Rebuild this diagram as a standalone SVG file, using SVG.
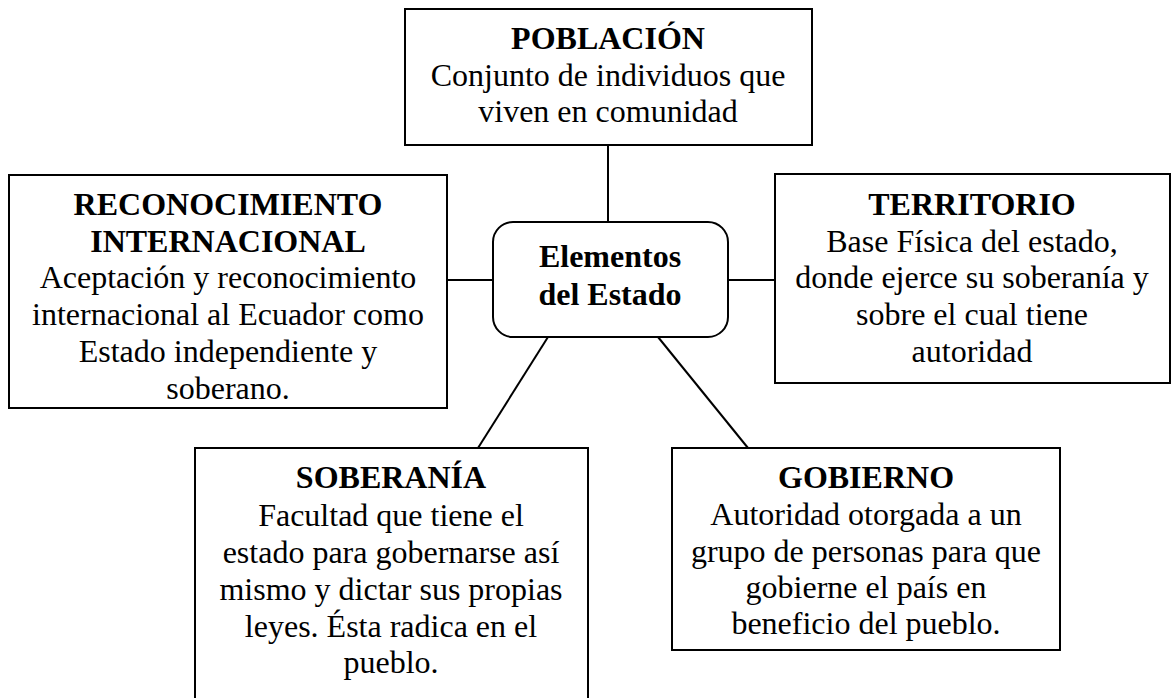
<svg xmlns="http://www.w3.org/2000/svg" width="1172" height="698" viewBox="0 0 1172 698">
<style>
.box{fill:#fff;stroke:#000;stroke-width:2}
.ln{stroke:#000;stroke-width:2;fill:none}
text{font-family:"Liberation Serif","Times New Roman",serif;font-size:32px;text-anchor:middle;fill:#000}
.b{font-weight:bold}
</style>
<rect width="1172" height="698" fill="#fff"/>
<g id="connectors">
<line class="ln" x1="608" y1="145" x2="608" y2="222"/>
<line class="ln" x1="447" y1="280" x2="493" y2="280"/>
<line class="ln" x1="728" y1="280" x2="775" y2="280"/>
<line class="ln" x1="548" y1="337" x2="478" y2="448"/>
<line class="ln" x1="658" y1="337" x2="748" y2="448"/>
</g>
<g id="poblacion">
<rect class="box" x="405" y="9" width="407" height="136"/>
<text x="608" y="49" class="b">POBLACIÓN</text>
<text x="608" y="86">Conjunto de individuos que</text>
<text x="608" y="122">viven en comunidad</text>
</g>
<g id="centro">
<rect class="box" x="493" y="222" width="235" height="115" rx="20" ry="20"/>
<text x="610" y="267" class="b">Elementos</text>
<text x="610" y="305" class="b">del Estado</text>
</g>
<g id="reconocimiento">
<rect class="box" x="9" y="175" width="438" height="233"/>
<text x="228" y="215" class="b">RECONOCIMIENTO</text>
<text x="228" y="252" class="b">INTERNACIONAL</text>
<text x="228" y="288">Aceptación y reconocimiento</text>
<text x="228" y="325">internacional al Ecuador como</text>
<text x="228" y="362">Estado independiente y</text>
<text x="228" y="399">soberano.</text>
</g>
<g id="territorio">
<rect class="box" x="775" y="174" width="395" height="209"/>
<text x="972" y="215" class="b">TERRITORIO</text>
<text x="972" y="252">Base Física del estado,</text>
<text x="972" y="288">donde ejerce su soberanía y</text>
<text x="972" y="325">sobre el cual tiene</text>
<text x="972" y="362">autoridad</text>
</g>
<g id="soberania">
<rect class="box" x="195" y="448" width="393" height="270"/>
<text x="391" y="488" class="b">SOBERANÍA</text>
<text x="391" y="526">Facultad que tiene el</text>
<text x="391" y="563">estado para gobernarse así</text>
<text x="391" y="600">mismo y dictar sus propias</text>
<text x="391" y="637">leyes. Ésta radica en el</text>
<text x="391" y="673">pueblo.</text>
</g>
<g id="gobierno">
<rect class="box" x="672" y="448" width="388" height="202"/>
<text x="866" y="488" class="b">GOBIERNO</text>
<text x="866" y="525">Autoridad otorgada a un</text>
<text x="866" y="562">grupo de personas para que</text>
<text x="866" y="598">gobierne el país en</text>
<text x="866" y="634">beneficio del pueblo.</text>
</g>
</svg>
